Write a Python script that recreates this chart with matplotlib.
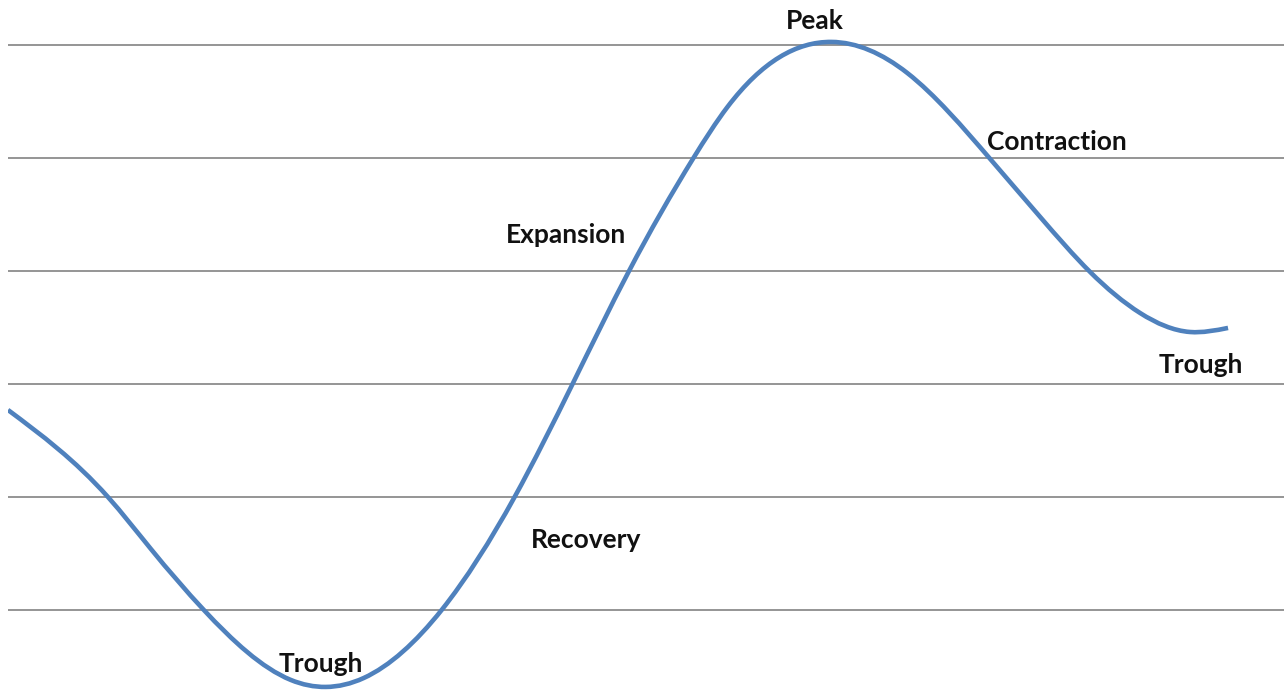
import matplotlib
matplotlib.use("Agg")
import matplotlib.pyplot as plt
import numpy as np
from matplotlib.path import Path
from matplotlib.patches import PathPatch

# Business-cycle curve (time units, output level; gridlines at 0..5)
time = [7, 107, 150, 203, 290, 325, 363, 441, 514, 572, 628, 693, 727, 831,
        907, 990, 1040, 1090, 1140, 1190, 1228]
level = [1.770, 1.0, 0.540, 0.0, -0.619, -0.681, -0.602, 0.0, 1.0, 2.0,
         2.991, 4.0, 4.451, 5.027, 4.752, 3.991, 3.478, 2.991, 2.628, 2.460,
         2.496]

grid_levels = [0, 1, 2, 3, 4, 5]

labels = ["Trough", "Recovery", "Expansion", "Peak", "Contraction", "Trough"]
label_x = [278, 530, 505, 785, 987, 1159]
label_y = [-0.549, 0.549, 3.248, 5.142, 4.071, 2.097]

W, H = 1284, 691
fig = plt.figure(figsize=(W / 100, H / 100), dpi=100)
ax = fig.add_axes([8 / W, 0, 1 - 8 / W, 1])
ax.set_xlim(7, 1284)
ax.set_ylim(-0.717, 5.398)
ax.axis("off")

for g in grid_levels:
    ax.axhline(g, color="#8c8c8c", linewidth=1.3, zorder=1)

# Smoothed line through the data points (natural cubic spline rendered as
# cubic Bezier segments in data coordinates).
x = np.asarray(time, float)
y = np.asarray(level, float)
n = len(x)
h = np.diff(x)
A = np.zeros((n, n))
r = np.zeros(n)
A[0, 0] = A[-1, -1] = 1.0
for i in range(1, n - 1):
    A[i, i - 1] = h[i - 1]
    A[i, i] = 2 * (h[i - 1] + h[i])
    A[i, i + 1] = h[i]
    r[i] = 6 * ((y[i + 1] - y[i]) / h[i] - (y[i] - y[i - 1]) / h[i - 1])
M = np.linalg.solve(A, r)
d0 = (y[1:] - y[:-1]) / h - h * (2 * M[:-1] + M[1:]) / 6   # slope at left
d1 = (y[1:] - y[:-1]) / h + h * (M[:-1] + 2 * M[1:]) / 6   # slope at right

verts = [(x[0], y[0])]
codes = [Path.MOVETO]
for i in range(n - 1):
    c1 = (x[i] + h[i] / 3, y[i] + d0[i] * h[i] / 3)
    c2 = (x[i + 1] - h[i] / 3, y[i + 1] - d1[i] * h[i] / 3)
    verts += [c1, c2, (x[i + 1], y[i + 1])]
    codes += [Path.CURVE4] * 3
ax.add_patch(PathPatch(Path(verts, codes), facecolor="none",
                       edgecolor="#4f81bd", linewidth=3.3,
                       capstyle="butt", joinstyle="round", zorder=2))

for t, lx, ly in zip(labels, label_x, label_y):
    ax.text(lx, ly, t, ha="left", va="baseline", fontsize=19,
            fontweight="bold", family="Lato", color="#111111", zorder=3)

fig.savefig("out.png", dpi=100, facecolor="white")
